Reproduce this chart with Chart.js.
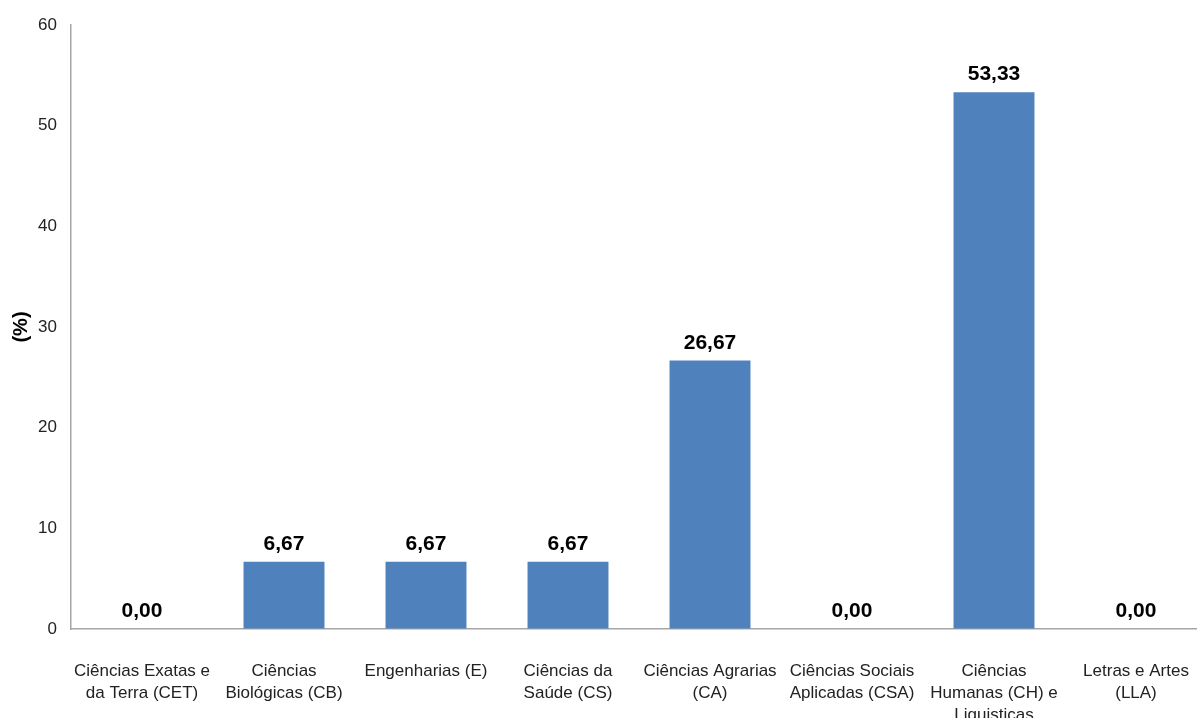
<!DOCTYPE html>
<html>
<head>
<meta charset="utf-8">
<script src="https://cdn.jsdelivr.net/npm/chart.js@4"></script>
<style>
  html, body { margin: 0; padding: 0; background: #fff; overflow: hidden; }
  /* canvas is a bit wider than the window, the plot runs past the right edge */
  #wrap { width: 1207px; height: 718px; position: relative; }
</style>
</head>
<body>
<div id="wrap"><canvas id="myChart"></canvas></div>
<script>
var areas = [
    ["Ciências Exatas e", "da Terra (CET)"],
    ["Ciências", "Biológicas (CB)"],
    "Engenharias (E)",
    ["Ciências da", "Saúde (CS)"],
    ["Ciências Agrarias", "(CA)"],
    ["Ciências Sociais", "Aplicadas (CSA)"],
    ["Ciências", "Humanas (CH) e", "Liguisticas"],
    ["Letras e Artes", "(LLA)"]
];
var percents = [0.00, 6.67, 6.67, 6.67, 26.67, 0.00, 53.33, 0.00];
var yMax = 60;
var yStep = 10;

// writes the value over each bar, with a comma as decimal mark
var barLabels = {
    id: 'barLabels',
    afterDatasetsDraw: function(chart) {
        var ctx = chart.ctx;
        var meta = chart.getDatasetMeta(0);
        ctx.save();
        ctx.font = 'bold 21px "Liberation Sans", Arial, sans-serif';
        ctx.fillStyle = '#000';
        ctx.textAlign = 'center';
        ctx.textBaseline = 'bottom';
        meta.data.forEach(function(bar, i) {
            var txt = percents[i].toFixed(2).replace('.', ',');
            ctx.fillText(txt, bar.x, bar.y - 7);
        });
        ctx.restore();
    }
};

var ctx = document.getElementById("myChart").getContext('2d');
var myChart = new Chart(ctx, {
    type: 'bar',
    data: {
        labels: areas,
        datasets: [{
            data: percents,
            backgroundColor: '#4F81BD',
            categoryPercentage: 1,
            barPercentage: 0.57
        }]
    },
    options: {
        responsive: true,
        maintainAspectRatio: false,
        animation: false,
        layout: { padding: { top: 25, right: 0, left: 0, bottom: 0 } },
        plugins: {
            legend: { display: false },
            tooltip: { enabled: false }
        },
        scales: {
            x: {
                grid: { display: true, drawOnChartArea: false, drawTicks: false },
                border: { display: true, color: '#a6a6a6', width: 1.5 },
                ticks: {
                    color: '#222',
                    padding: 31,
                    maxRotation: 0,
                    autoSkip: false,
                    font: { family: '"Liberation Sans", Arial, sans-serif', size: 17, lineHeight: 1.3 }
                },
                afterFit: function(scale) {
                    scale.height = 89;
                    scale.paddingLeft = 0;
                    scale.paddingRight = 0;
                }
            },
            y: {
                min: 0,
                max: yMax,
                grid: { display: true, drawOnChartArea: false, drawTicks: false },
                border: { display: true, color: '#a6a6a6', width: 1.5 },
                ticks: {
                    stepSize: yStep,
                    color: '#222',
                    padding: 14,
                    font: { family: '"Liberation Sans", Arial, sans-serif', size: 17 }
                },
                title: {
                    display: true,
                    text: '(%)',
                    color: '#000',
                    padding: { top: 9, bottom: 0 },
                    font: { family: '"Liberation Sans", Arial, sans-serif', size: 20, weight: 'bold' }
                },
                afterFit: function(scale) { scale.width = 71; }
            }
        }
    },
    plugins: [barLabels]
});
</script>
</body>
</html>
